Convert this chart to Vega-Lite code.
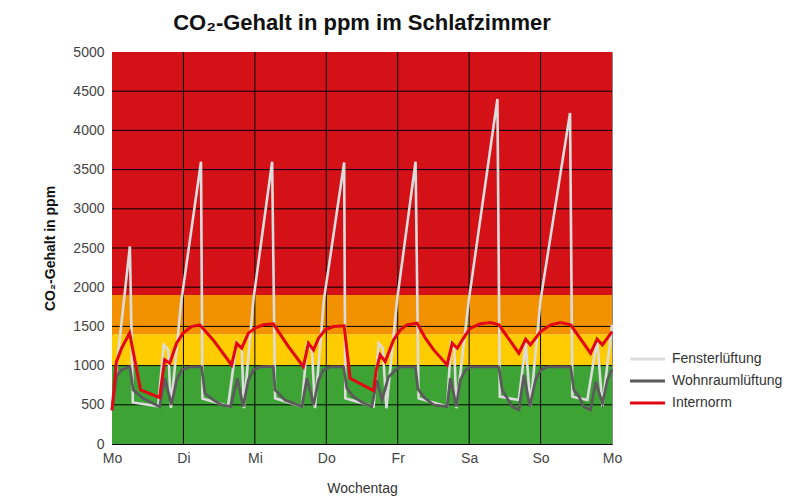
{
  "$schema": "https://vega.github.io/schema/vega-lite/v6.json",
  "autosize": "none",
  "width": 500,
  "height": 392,
  "padding": {"left": 112, "top": 52, "right": 199, "bottom": 52},
  "background": "white",
  "config": {
    "font": "Liberation Sans",
    "view": {"stroke": "#8a8a8a", "strokeWidth": 1},
    "axisY": {"labelOverlap": false},
    "axisX": {"labelOverlap": false, "labelFlush": false}
  },
  "title": {
    "text": "CO₂-Gehalt in ppm im Schlafzimmer",
    "fontSize": 22,
    "fontWeight": "bold",
    "color": "#111",
    "anchor": "middle",
    "frame": "group",
    "offset": 10
  },
  "datasets": {
    "bands": [
      {"zone": "gut", "lo": 0, "hi": 1000},
      {"zone": "mittel", "lo": 1000, "hi": 1400},
      {"zone": "erhöht", "lo": 1400, "hi": 1900},
      {"zone": "schlecht", "lo": 1900, "hi": 5000}
    ],
    "hgrid": [{"v": 500}, {"v": 1000}, {"v": 1500}, {"v": 2000}, {"v": 2500}, {"v": 3000}, {"v": 3500}, {"v": 4000}, {"v": 4500}],
    "vgrid": [{"h": 24}, {"h": 48}, {"h": 72}, {"h": 96}, {"h": 120}, {"h": 144}],
    "co2": [
      {"s": "Fensterlüftung", "h": 0, "ppm": 440},
      {"s": "Fensterlüftung", "h": 6, "ppm": 2520},
      {"s": "Fensterlüftung", "h": 7, "ppm": 530},
      {"s": "Fensterlüftung", "h": 15.5, "ppm": 480},
      {"s": "Fensterlüftung", "h": 17.4, "ppm": 1264},
      {"s": "Fensterlüftung", "h": 18.9, "ppm": 1200},
      {"s": "Fensterlüftung", "h": 19.8, "ppm": 460},
      {"s": "Fensterlüftung", "h": 23.2, "ppm": 1800},
      {"s": "Fensterlüftung", "h": 29.9, "ppm": 3600},
      {"s": "Fensterlüftung", "h": 30.4, "ppm": 580},
      {"s": "Fensterlüftung", "h": 39, "ppm": 485},
      {"s": "Fensterlüftung", "h": 41.9, "ppm": 1300},
      {"s": "Fensterlüftung", "h": 43.6, "ppm": 1222},
      {"s": "Fensterlüftung", "h": 44.3, "ppm": 456},
      {"s": "Fensterlüftung", "h": 47.5, "ppm": 1839},
      {"s": "Fensterlüftung", "h": 53.8, "ppm": 3600},
      {"s": "Fensterlüftung", "h": 54.8, "ppm": 583},
      {"s": "Fensterlüftung", "h": 63.8, "ppm": 477},
      {"s": "Fensterlüftung", "h": 65.5, "ppm": 1260},
      {"s": "Fensterlüftung", "h": 67.2, "ppm": 1200},
      {"s": "Fensterlüftung", "h": 68.2, "ppm": 456},
      {"s": "Fensterlüftung", "h": 71.2, "ppm": 1839},
      {"s": "Fensterlüftung", "h": 78, "ppm": 3590},
      {"s": "Fensterlüftung", "h": 78.4, "ppm": 583},
      {"s": "Fensterlüftung", "h": 87.9, "ppm": 477},
      {"s": "Fensterlüftung", "h": 89.6, "ppm": 1286},
      {"s": "Fensterlüftung", "h": 91, "ppm": 1222},
      {"s": "Fensterlüftung", "h": 92.2, "ppm": 456},
      {"s": "Fensterlüftung", "h": 95.8, "ppm": 1839},
      {"s": "Fensterlüftung", "h": 102, "ppm": 3600},
      {"s": "Fensterlüftung", "h": 103, "ppm": 583},
      {"s": "Fensterlüftung", "h": 112.6, "ppm": 477},
      {"s": "Fensterlüftung", "h": 113.9, "ppm": 1290},
      {"s": "Fensterlüftung", "h": 115, "ppm": 1230},
      {"s": "Fensterlüftung", "h": 115.7, "ppm": 455},
      {"s": "Fensterlüftung", "h": 119.9, "ppm": 1839},
      {"s": "Fensterlüftung", "h": 129.5, "ppm": 4400},
      {"s": "Fensterlüftung", "h": 130.3, "ppm": 604},
      {"s": "Fensterlüftung", "h": 136.7, "ppm": 562},
      {"s": "Fensterlüftung", "h": 139, "ppm": 1290},
      {"s": "Fensterlüftung", "h": 140.6, "ppm": 477},
      {"s": "Fensterlüftung", "h": 144, "ppm": 1839},
      {"s": "Fensterlüftung", "h": 153.9, "ppm": 4223},
      {"s": "Fensterlüftung", "h": 154.7, "ppm": 604},
      {"s": "Fensterlüftung", "h": 159.7, "ppm": 562},
      {"s": "Fensterlüftung", "h": 163, "ppm": 1328},
      {"s": "Fensterlüftung", "h": 164.8, "ppm": 477},
      {"s": "Fensterlüftung", "h": 168, "ppm": 1520},
      {"s": "Wohnraumlüftung", "h": 0, "ppm": 430},
      {"s": "Wohnraumlüftung", "h": 1.5, "ppm": 860},
      {"s": "Wohnraumlüftung", "h": 3.2, "ppm": 945},
      {"s": "Wohnraumlüftung", "h": 6, "ppm": 987},
      {"s": "Wohnraumlüftung", "h": 7.1, "ppm": 690},
      {"s": "Wohnraumlüftung", "h": 10.4, "ppm": 583},
      {"s": "Wohnraumlüftung", "h": 16, "ppm": 475},
      {"s": "Wohnraumlüftung", "h": 17.7, "ppm": 840},
      {"s": "Wohnraumlüftung", "h": 20, "ppm": 500},
      {"s": "Wohnraumlüftung", "h": 21.7, "ppm": 814},
      {"s": "Wohnraumlüftung", "h": 23.4, "ppm": 942},
      {"s": "Wohnraumlüftung", "h": 26.2, "ppm": 985},
      {"s": "Wohnraumlüftung", "h": 30.1, "ppm": 985},
      {"s": "Wohnraumlüftung", "h": 31.2, "ppm": 647},
      {"s": "Wohnraumlüftung", "h": 34, "ppm": 562},
      {"s": "Wohnraumlüftung", "h": 36.8, "ppm": 498},
      {"s": "Wohnraumlüftung", "h": 39.9, "ppm": 477},
      {"s": "Wohnraumlüftung", "h": 42.1, "ppm": 839},
      {"s": "Wohnraumlüftung", "h": 44.1, "ppm": 477},
      {"s": "Wohnraumlüftung", "h": 45.8, "ppm": 814},
      {"s": "Wohnraumlüftung", "h": 47.5, "ppm": 942},
      {"s": "Wohnraumlüftung", "h": 49.7, "ppm": 985},
      {"s": "Wohnraumlüftung", "h": 54.2, "ppm": 990},
      {"s": "Wohnraumlüftung", "h": 54.8, "ppm": 690},
      {"s": "Wohnraumlüftung", "h": 58.1, "ppm": 562},
      {"s": "Wohnraumlüftung", "h": 63.8, "ppm": 477},
      {"s": "Wohnraumlüftung", "h": 65.5, "ppm": 839},
      {"s": "Wohnraumlüftung", "h": 67.7, "ppm": 498},
      {"s": "Wohnraumlüftung", "h": 69.4, "ppm": 814},
      {"s": "Wohnraumlüftung", "h": 71, "ppm": 942},
      {"s": "Wohnraumlüftung", "h": 73.3, "ppm": 985},
      {"s": "Wohnraumlüftung", "h": 77.8, "ppm": 985},
      {"s": "Wohnraumlüftung", "h": 78.9, "ppm": 711},
      {"s": "Wohnraumlüftung", "h": 81.1, "ppm": 604},
      {"s": "Wohnraumlüftung", "h": 84.5, "ppm": 519},
      {"s": "Wohnraumlüftung", "h": 87.3, "ppm": 477},
      {"s": "Wohnraumlüftung", "h": 89, "ppm": 814},
      {"s": "Wohnraumlüftung", "h": 90.7, "ppm": 562},
      {"s": "Wohnraumlüftung", "h": 92.9, "ppm": 856},
      {"s": "Wohnraumlüftung", "h": 95.2, "ppm": 942},
      {"s": "Wohnraumlüftung", "h": 96.9, "ppm": 985},
      {"s": "Wohnraumlüftung", "h": 101.9, "ppm": 985},
      {"s": "Wohnraumlüftung", "h": 102.8, "ppm": 700},
      {"s": "Wohnraumlüftung", "h": 105, "ppm": 590},
      {"s": "Wohnraumlüftung", "h": 108.1, "ppm": 498},
      {"s": "Wohnraumlüftung", "h": 112.6, "ppm": 477},
      {"s": "Wohnraumlüftung", "h": 113.7, "ppm": 839},
      {"s": "Wohnraumlüftung", "h": 115.7, "ppm": 477},
      {"s": "Wohnraumlüftung", "h": 117, "ppm": 814},
      {"s": "Wohnraumlüftung", "h": 118.8, "ppm": 942},
      {"s": "Wohnraumlüftung", "h": 120.4, "ppm": 985},
      {"s": "Wohnraumlüftung", "h": 130, "ppm": 985},
      {"s": "Wohnraumlüftung", "h": 131.1, "ppm": 690},
      {"s": "Wohnraumlüftung", "h": 132.8, "ppm": 583},
      {"s": "Wohnraumlüftung", "h": 134.5, "ppm": 477},
      {"s": "Wohnraumlüftung", "h": 136.7, "ppm": 434},
      {"s": "Wohnraumlüftung", "h": 138.4, "ppm": 881},
      {"s": "Wohnraumlüftung", "h": 140.4, "ppm": 477},
      {"s": "Wohnraumlüftung", "h": 142.3, "ppm": 814},
      {"s": "Wohnraumlüftung", "h": 144, "ppm": 942},
      {"s": "Wohnraumlüftung", "h": 146.3, "ppm": 985},
      {"s": "Wohnraumlüftung", "h": 154.1, "ppm": 985},
      {"s": "Wohnraumlüftung", "h": 155.2, "ppm": 690},
      {"s": "Wohnraumlüftung", "h": 156.9, "ppm": 604},
      {"s": "Wohnraumlüftung", "h": 158.6, "ppm": 477},
      {"s": "Wohnraumlüftung", "h": 160.8, "ppm": 434},
      {"s": "Wohnraumlüftung", "h": 162.5, "ppm": 796},
      {"s": "Wohnraumlüftung", "h": 164.8, "ppm": 520},
      {"s": "Wohnraumlüftung", "h": 166.5, "ppm": 821},
      {"s": "Wohnraumlüftung", "h": 168, "ppm": 950},
      {"s": "Internorm", "h": 0, "ppm": 430},
      {"s": "Internorm", "h": 1.5, "ppm": 1050},
      {"s": "Internorm", "h": 3.2, "ppm": 1220},
      {"s": "Internorm", "h": 5.9, "ppm": 1415},
      {"s": "Internorm", "h": 9.6, "ppm": 690},
      {"s": "Internorm", "h": 16, "ppm": 590},
      {"s": "Internorm", "h": 17.7, "ppm": 1073},
      {"s": "Internorm", "h": 19.4, "ppm": 1030},
      {"s": "Internorm", "h": 21.7, "ppm": 1286},
      {"s": "Internorm", "h": 23.9, "ppm": 1414},
      {"s": "Internorm", "h": 26.7, "ppm": 1498},
      {"s": "Internorm", "h": 29.5, "ppm": 1520},
      {"s": "Internorm", "h": 34, "ppm": 1328},
      {"s": "Internorm", "h": 40.2, "ppm": 1009},
      {"s": "Internorm", "h": 41.9, "ppm": 1286},
      {"s": "Internorm", "h": 43.6, "ppm": 1222},
      {"s": "Internorm", "h": 45.8, "ppm": 1414},
      {"s": "Internorm", "h": 48, "ppm": 1477},
      {"s": "Internorm", "h": 50.8, "ppm": 1520},
      {"s": "Internorm", "h": 54.2, "ppm": 1533},
      {"s": "Internorm", "h": 59.3, "ppm": 1243},
      {"s": "Internorm", "h": 64.3, "ppm": 987},
      {"s": "Internorm", "h": 66, "ppm": 1286},
      {"s": "Internorm", "h": 67.7, "ppm": 1200},
      {"s": "Internorm", "h": 69.4, "ppm": 1350},
      {"s": "Internorm", "h": 71.6, "ppm": 1456},
      {"s": "Internorm", "h": 74.4, "ppm": 1498},
      {"s": "Internorm", "h": 78, "ppm": 1507},
      {"s": "Internorm", "h": 80, "ppm": 839},
      {"s": "Internorm", "h": 87.9, "ppm": 681},
      {"s": "Internorm", "h": 88.8, "ppm": 945},
      {"s": "Internorm", "h": 90.1, "ppm": 1137},
      {"s": "Internorm", "h": 91.8, "ppm": 1051},
      {"s": "Internorm", "h": 94.6, "ppm": 1328},
      {"s": "Internorm", "h": 96.9, "ppm": 1456},
      {"s": "Internorm", "h": 99.1, "ppm": 1520},
      {"s": "Internorm", "h": 102.5, "ppm": 1541},
      {"s": "Internorm", "h": 105.3, "ppm": 1350},
      {"s": "Internorm", "h": 108.1, "ppm": 1200},
      {"s": "Internorm", "h": 112.6, "ppm": 1009},
      {"s": "Internorm", "h": 114.3, "ppm": 1286},
      {"s": "Internorm", "h": 116, "ppm": 1222},
      {"s": "Internorm", "h": 118.8, "ppm": 1392},
      {"s": "Internorm", "h": 120.4, "ppm": 1477},
      {"s": "Internorm", "h": 123.8, "ppm": 1533},
      {"s": "Internorm", "h": 127.2, "ppm": 1549},
      {"s": "Internorm", "h": 130, "ppm": 1520},
      {"s": "Internorm", "h": 136.7, "ppm": 1158},
      {"s": "Internorm", "h": 139, "ppm": 1337},
      {"s": "Internorm", "h": 140.6, "ppm": 1264},
      {"s": "Internorm", "h": 144, "ppm": 1434},
      {"s": "Internorm", "h": 147.4, "ppm": 1520},
      {"s": "Internorm", "h": 150.7, "ppm": 1549},
      {"s": "Internorm", "h": 154.1, "ppm": 1520},
      {"s": "Internorm", "h": 160.8, "ppm": 1158},
      {"s": "Internorm", "h": 163, "ppm": 1337},
      {"s": "Internorm", "h": 164.8, "ppm": 1264},
      {"s": "Internorm", "h": 168, "ppm": 1434}
    ]
  },
  "resolve": {"scale": {"color": "independent"}, "legend": {"color": "independent"}},
  "layer": [
    {
      "data": {"name": "bands"},
      "mark": {"type": "rect"},
      "encoding": {
        "y": {
          "field": "lo", "type": "quantitative",
          "scale": {"domain": [0, 5000], "nice": false},
          "axis": {
            "values": [0, 500, 1000, 1500, 2000, 2500, 3000, 3500, 4000, 4500, 5000],
            "format": "d",
            "grid": false, "ticks": false,
            "domain": true, "domainColor": "#000", "domainWidth": 1,
            "labelFontSize": 14, "labelColor": "#444", "labelPadding": 8,
            "title": "CO₂-Gehalt in ppm",
            "titleFontSize": 14, "titleFontWeight": "bold", "titleColor": "#111",
            "titlePadding": 15
          }
        },
        "y2": {"field": "hi"},
        "color": {
          "field": "zone", "type": "nominal",
          "scale": {"domain": ["gut", "mittel", "erhöht", "schlecht"], "range": ["#3EA335", "#FFCC00", "#F29200", "#D31117"]},
          "legend": null
        }
      }
    },
    {
      "data": {"name": "hgrid"},
      "mark": {"type": "rule", "color": "#000", "strokeWidth": 1},
      "encoding": {
        "y": {
          "field": "v", "type": "quantitative",
          "axis": {
            "values": [0, 500, 1000, 1500, 2000, 2500, 3000, 3500, 4000, 4500, 5000],
            "format": "d",
            "grid": false, "ticks": false,
            "domain": true, "domainColor": "#000", "domainWidth": 1,
            "labelFontSize": 14, "labelColor": "#444", "labelPadding": 8,
            "title": "CO₂-Gehalt in ppm",
            "titleFontSize": 14, "titleFontWeight": "bold", "titleColor": "#111",
            "titlePadding": 15
          }
        }
      }
    },
    {
      "data": {"name": "vgrid"},
      "mark": {"type": "rule", "color": "#000", "strokeWidth": 1},
      "encoding": {
        "x": {
          "field": "h", "type": "quantitative",
          "scale": {"domain": [0, 168], "nice": false, "zero": false},
          "axis": {
            "values": [0, 24, 48, 72, 96, 120, 144, 168],
            "labelExpr": "['Mo','Di','Mi','Do','Fr','Sa','So','Mo'][round(datum.value/24)]",
            "grid": false, "ticks": false,
            "domain": true, "domainColor": "#000", "domainWidth": 1,
            "labelFontSize": 14, "labelColor": "#444", "labelPadding": 7,
            "title": "Wochentag",
            "titleFontSize": 14, "titleFontWeight": "normal", "titleColor": "#333",
            "titlePadding": 16
          }
        }
      }
    },
    {
      "data": {"name": "co2"},
      "mark": {"type": "line", "strokeJoin": "miter"},
      "encoding": {
        "x": {
          "field": "h", "type": "quantitative",
          "axis": {
            "values": [0, 24, 48, 72, 96, 120, 144, 168],
            "labelExpr": "['Mo','Di','Mi','Do','Fr','Sa','So','Mo'][round(datum.value/24)]",
            "grid": false, "ticks": false,
            "domain": true, "domainColor": "#000", "domainWidth": 1,
            "labelFontSize": 14, "labelColor": "#444", "labelPadding": 7,
            "title": "Wochentag",
            "titleFontSize": 14, "titleFontWeight": "normal", "titleColor": "#333",
            "titlePadding": 16
          }
        },
        "y": {
          "field": "ppm", "type": "quantitative",
          "axis": {
            "values": [0, 500, 1000, 1500, 2000, 2500, 3000, 3500, 4000, 4500, 5000],
            "format": "d",
            "grid": false, "ticks": false,
            "domain": true, "domainColor": "#000", "domainWidth": 1,
            "labelFontSize": 14, "labelColor": "#444", "labelPadding": 8,
            "title": "CO₂-Gehalt in ppm",
            "titleFontSize": 14, "titleFontWeight": "bold", "titleColor": "#111",
            "titlePadding": 15
          }
        },
        "strokeWidth": {
          "field": "s", "type": "nominal",
          "scale": {"domain": ["Fensterlüftung", "Wohnraumlüftung", "Internorm"], "range": [2.6, 3, 3]},
          "legend": null
        },
        "color": {
          "field": "s", "type": "nominal",
          "scale": {"domain": ["Fensterlüftung", "Wohnraumlüftung", "Internorm"], "range": ["#DCDCDC", "#5B5B5B", "#E30613"]},
          "legend": {
            "title": null,
            "orient": "none",
            "legendX": 528,
            "legendY": 299.5,
            "symbolType": "M-3,0H3",
            "symbolSize": 136,
            "symbolStrokeWidth": 3,
            "labelFontSize": 14,
            "labelColor": "#333",
            "labelOffset": 17,
            "rowPadding": 7
          }
        }
      }
    }
  ]
}
